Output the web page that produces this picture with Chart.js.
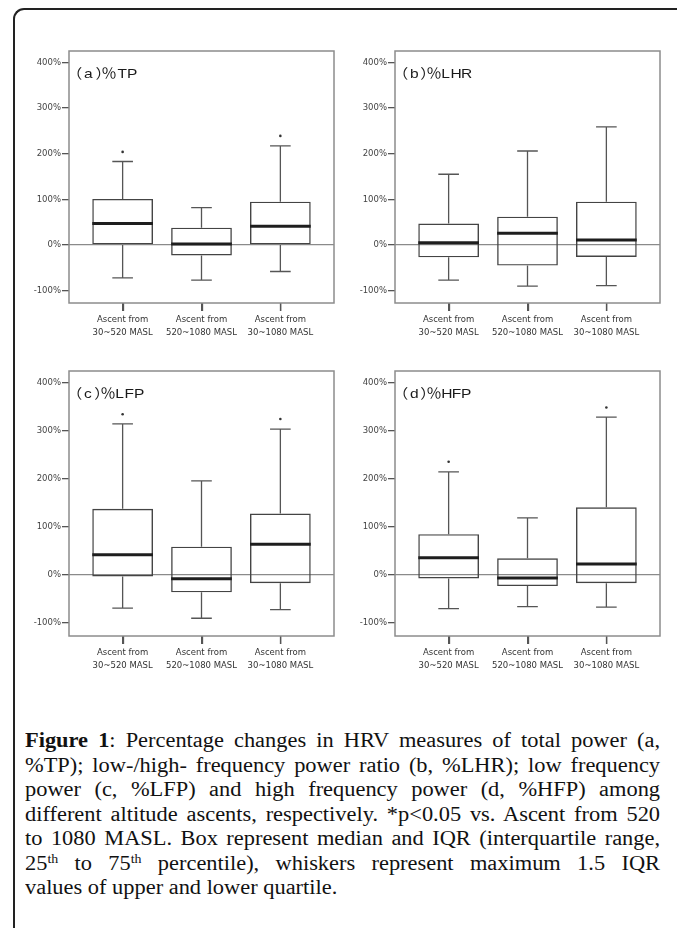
<!DOCTYPE html>
<html><head><meta charset="utf-8">
<script src="https://cdn.jsdelivr.net/npm/chart.js@4/dist/chart.umd.min.js"></script>
<style>
html,body{margin:0;padding:0;background:#fff;width:677px;height:928px;overflow:hidden;}
#frame{position:absolute;left:13px;top:8px;width:720px;height:980px;border-left:2px solid #222;border-top:2px solid #222;border-top-left-radius:11px;box-sizing:border-box;}
canvas{position:absolute;}
#caption{position:absolute;left:25px;top:728px;width:567px;font-family:"Liberation Serif","Times New Roman",serif;font-size:20px;color:#111;transform:scaleX(1.12);transform-origin:0 0;}
#caption .ln{height:24.5px;line-height:24.5px;text-align:justify;text-align-last:justify;white-space:nowrap;}
#caption .ln.last{text-align:left;text-align-last:left;}
#caption sup{font-size:0.62em;line-height:0;vertical-align:0.55em;}
</style></head>
<body>
<div id="frame"></div>
<canvas id="pa" width="340" height="320" style="left:0px;top:30px"></canvas>
<canvas id="pb" width="340" height="320" style="left:326px;top:30px"></canvas>
<canvas id="pc" width="340" height="333" style="left:0px;top:350px"></canvas>
<canvas id="pd" width="340" height="333" style="left:326px;top:350px"></canvas>
<div id="caption">
<div class="ln"><b>Figure 1</b>: Percentage changes in HRV measures of total power (a,</div>
<div class="ln">%TP); low-/high- frequency power ratio (b, %LHR); low frequency</div>
<div class="ln">power (c, %LFP) and high frequency power (d, %HFP) among</div>
<div class="ln">different altitude ascents, respectively. *p&lt;0.05 vs. Ascent from 520</div>
<div class="ln">to 1080 MASL. Box represent median and IQR (interquartile range,</div>
<div class="ln">25<sup>th</sup> to 75<sup>th</sup> percentile), whiskers represent maximum 1.5 IQR</div>
<div class="ln last">values of upper and lower quartile.</div>
</div>
<script>
// ---- data ----
const categories = [["Ascent from","30~520 MASL"],["Ascent from","520~1080 MASL"],["Ascent from","30~1080 MASL"]];
const yTicks = [-100, 0, 100, 200, 300, 400];
const panelTitles = ["（a）％TP", "（b）％LHR", "（c）％LFP", "（d）％HFP"];

const tpLow     = [-72, -77, -58];
const tpQ1      = [0, -23, 0];
const tpMedian  = [47, 2, 41];
const tpQ3      = [101, 38, 95];
const tpHigh    = [183, 82, 217];
const tpOutlier = [204, null, 239];

const lhrLow     = [-77, -90, -89];
const lhrQ1      = [-27, -45, -26];
const lhrMedian  = [5, 26, 11];
const lhrQ3      = [47, 62, 95];
const lhrHigh    = [155, 206, 259];
const lhrOutlier = [null, null, null];

const lfpLow     = [-69, -90, -72];
const lfpQ1      = [-3, -36, -17];
const lfpMedian  = [42, -8, 64];
const lfpQ3      = [138, 59, 128];
const lfpHigh    = [315, 196, 304];
const lfpOutlier = [335, null, 325];

const hfpLow     = [-70, -66, -67];
const hfpQ1      = [-7, -23, -17];
const hfpMedian  = [36, -6, 23];
const hfpQ3      = [85, 35, 141];
const hfpHigh    = [215, 119, 329];
const hfpOutlier = [236, null, 349];

const AXIS_FONT = '"DejaVu Sans", Verdana, sans-serif';

function drawTitle(ctx, title, x0, base) {
  // glyph-by-glyph layout, slightly stretched horizontally like the source figure
  const sx = 1.15;
  ctx.save();
  ctx.font = '13.5px "Liberation Sans", "Noto Sans CJK SC", sans-serif';
  ctx.fillStyle = '#1a1a1a';
  ctx.textBaseline = 'alphabetic'; ctx.textAlign = 'left';
  let x = x0;
  const chars = [...title];
  chars.forEach((ch, k) => {
    const m = ctx.measureText(ch);
    const L = m.actualBoundingBoxLeft, R = m.actualBoundingBoxRight;
    ctx.save();
    ctx.translate(x, base);
    ctx.scale(sx, 1);
    ctx.fillText(ch, L, 0);
    ctx.restore();
    const inParen = (ch === '（') || (chars[k + 1] === '）');
    x += (L + R) * sx + (inParen ? 2.3 : 1.3);
  });
  ctx.restore();
}

function makePanel(id, title, low, q1, med, q3, high, outl) {
  const boxPlugin = {
    id: 'box_' + id,
    afterDatasetsDraw(chart) {
      const ctx = chart.ctx, a = chart.chartArea, y = chart.scales.y, xs = chart.scales.x;
      const meta = chart.getDatasetMeta(0);
      ctx.save();
      meta.data.forEach((el, i) => {
        const cx = el.x, hw = el.width / 2, cap = el.width * 0.17;
        const yHi = y.getPixelForValue(high[i]), yLo = y.getPixelForValue(low[i]);
        const yQ3 = y.getPixelForValue(q3[i]), yQ1 = y.getPixelForValue(q1[i]);
        ctx.strokeStyle = '#555'; ctx.lineWidth = 1.3;
        ctx.beginPath();
        ctx.moveTo(cx, yQ3); ctx.lineTo(cx, yHi);
        ctx.moveTo(cx - cap, yHi); ctx.lineTo(cx + cap, yHi);
        ctx.moveTo(cx, yQ1); ctx.lineTo(cx, yLo);
        ctx.moveTo(cx - cap, yLo); ctx.lineTo(cx + cap, yLo);
        ctx.stroke();
        const yM = y.getPixelForValue(med[i]);
        ctx.strokeStyle = '#1e1e1e'; ctx.lineWidth = 3;
        ctx.beginPath(); ctx.moveTo(cx - hw, yM); ctx.lineTo(cx + hw, yM); ctx.stroke();
      });
      // category tick marks below the frame
      ctx.strokeStyle = '#555'; ctx.lineWidth = 1.3;
      ctx.beginPath();
      xs.ticks.forEach((t, i) => {
        const px = Math.round(xs.getPixelForTick(i)) + 0.5;
        ctx.moveTo(px, a.bottom); ctx.lineTo(px, a.bottom + 8);
      });
      ctx.stroke();
      ctx.strokeStyle = '#8c8c8c'; ctx.lineWidth = 1.5;
      ctx.strokeRect(a.left, a.top, a.right - a.left, a.bottom - a.top);
      ctx.restore();
      drawTitle(ctx, title, a.left + 8, a.top + 26.5);
    }
  };
  const outPts = [];
  outl.forEach((v, i) => { if (v !== null) outPts.push({ x: i, y: v }); });
  new Chart(document.getElementById(id), {
    type: 'bar',
    data: {
      datasets: [
        {
          type: 'bar',
          data: q1.map((v, i) => ({ x: i, y: [v, q3[i]] })),
          backgroundColor: 'rgba(0,0,0,0)',
          borderColor: '#444',
          borderWidth: 1.4,
          borderSkipped: false,
          barPercentage: 0.77,
          categoryPercentage: 1
        },
        {
          type: 'scatter',
          data: outPts,
          pointRadius: 1.3,
          pointBackgroundColor: '#333',
          pointBorderWidth: 0
        }
      ]
    },
    options: {
      responsive: false,
      animation: false,
      devicePixelRatio: 1,
      layout: { padding: { left: 0, right: 6, top: 21, bottom: 0 } },
      plugins: { legend: { display: false }, tooltip: { enabled: false } },
      scales: {
        x: {
          type: 'linear', min: -0.68, max: 2.68, offset: false,
          afterBuildTicks: s => { s.ticks = categories.map((c, i) => ({ value: i })); },
          afterFit: s => { s.height = 47; },
          ticks: {
            callback: v => categories[v],
            autoSkip: false, maxRotation: 0, minRotation: 0,
            color: '#333', padding: 2,
            font: { family: AXIS_FONT, size: 8.5, lineHeight: 1.55 }
          },
          grid: { offset: false, drawOnChartArea: false, drawTicks: true, tickLength: 8, tickColor: '#555', tickWidth: 1.3, lineWidth: 1.3 },
          border: { display: false }
        },
        y: {
          type: 'linear', min: -127, max: 425,
          afterBuildTicks: s => { s.ticks = yTicks.map(v => ({ value: v })); },
          afterFit: s => { s.width = 69; },
          ticks: {
            callback: v => v + '%',
            color: '#444', padding: 1,
            font: { family: AXIS_FONT, size: 8.5 }
          },
          grid: {
            color: c => (c.tick && c.tick.value === 0) ? '#8a8a8a' : 'rgba(0,0,0,0)',
            lineWidth: 1.3, tickColor: '#555', tickWidth: 1.3, tickLength: 7, drawTicks: true
          },
          border: { display: false }
        }
      }
    },
    plugins: [boxPlugin]
  });
}

makePanel('pa', panelTitles[0], tpLow, tpQ1, tpMedian, tpQ3, tpHigh, tpOutlier);
makePanel('pb', panelTitles[1], lhrLow, lhrQ1, lhrMedian, lhrQ3, lhrHigh, lhrOutlier);
makePanel('pc', panelTitles[2], lfpLow, lfpQ1, lfpMedian, lfpQ3, lfpHigh, lfpOutlier);
makePanel('pd', panelTitles[3], hfpLow, hfpQ1, hfpMedian, hfpQ3, hfpHigh, hfpOutlier);
</script>
</body></html>
